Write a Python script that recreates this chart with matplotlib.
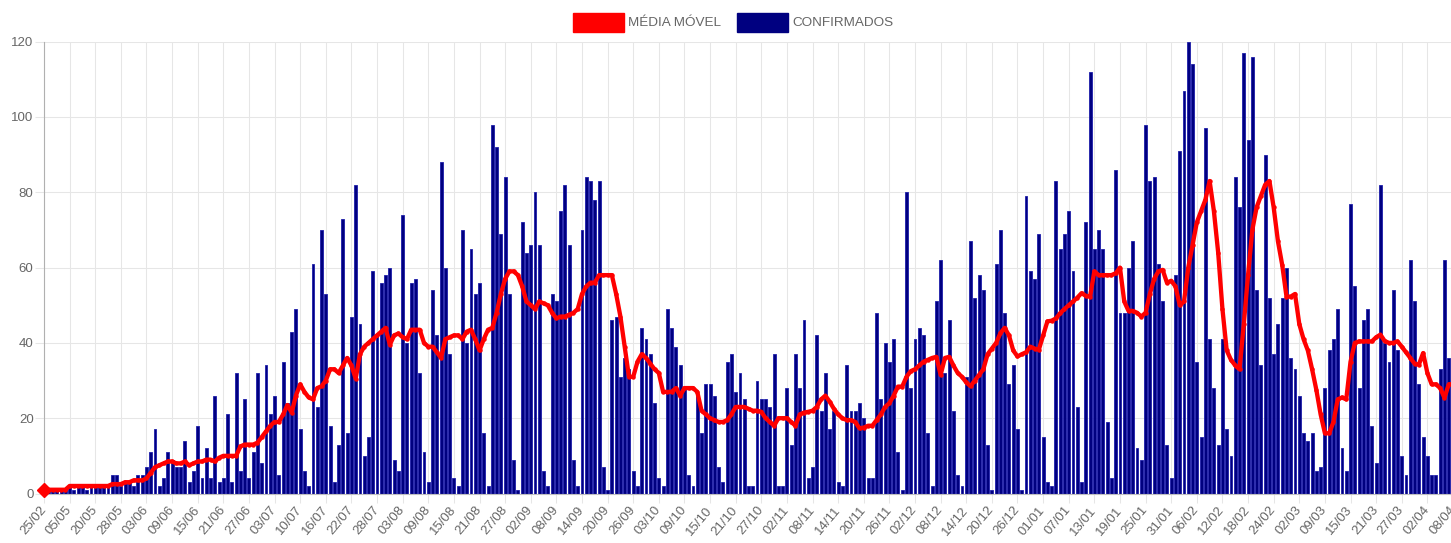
import numpy as np
import matplotlib
matplotlib.use("Agg")
import matplotlib.pyplot as plt
from matplotlib.patches import Rectangle

tick_labels = ["25/02", "05/05", "20/05", "28/05", "03/06", "09/06", "15/06", "21/06",
               "27/06", "03/07", "10/07", "16/07", "22/07", "28/07", "03/08", "09/08",
               "15/08", "21/08", "27/08", "02/09", "08/09", "14/09", "20/09", "26/09",
               "03/10", "09/10", "15/10", "21/10", "27/10", "02/11", "08/11", "14/11",
               "20/11", "26/11", "02/12", "08/12", "14/12", "20/12", "26/12", "01/01",
               "07/01", "13/01", "19/01", "25/01", "31/01", "06/02", "12/02", "18/02",
               "24/02", "02/03", "09/03", "15/03", "21/03", "27/03", "02/04", "08/04"]

# casos confirmados por dia (uma categoria por dia)
confirmados = [
    1, 1, 1, 1, 1, 1,
    2, 1, 2, 2, 1, 2,
    2, 2, 2, 2, 5, 5,
    2, 3, 3, 2, 5, 5,
    7, 11, 17, 2, 4, 11,
    9, 7, 7, 14, 3, 6,
    18, 4, 12, 4, 26, 3,
    4, 21, 3, 32, 6, 25,
    4, 11, 32, 8, 34, 21,
    26, 5, 35, 24, 43, 49,
    17, 6, 2, 61, 23, 70,
    53, 18, 3, 13, 73, 16,
    47, 82, 45, 10, 15, 59,
    42, 56, 58, 60, 9, 6,
    74, 40, 56, 57, 32, 11,
    3, 54, 42, 88, 60, 37,
    4, 2, 70, 40, 65, 53,
    56, 16, 2, 98, 92, 69,
    84, 53, 9, 1, 72, 64,
    66, 80, 66, 6, 2, 53,
    51, 75, 82, 66, 9, 2,
    70, 84, 83, 78, 83, 7,
    1, 46, 47, 31, 36, 33,
    6, 2, 44, 41, 37, 24,
    4, 2, 49, 44, 39, 34,
    28, 5, 2, 26, 16, 29,
    29, 26, 7, 3, 35, 37,
    27, 32, 25, 2, 2, 30,
    25, 25, 23, 37, 2, 2,
    28, 13, 37, 28, 46, 4,
    7, 42, 22, 32, 17, 22,
    3, 2, 34, 22, 22, 24,
    20, 4, 4, 48, 25, 40,
    35, 41, 11, 1, 80, 28,
    41, 44, 42, 16, 2, 51,
    62, 32, 46, 22, 5, 2,
    31, 67, 52, 58, 54, 13,
    1, 61, 70, 48, 29, 34,
    17, 1, 79, 59, 57, 69,
    15, 3, 2, 83, 65, 69,
    75, 59, 23, 3, 72, 112,
    65, 70, 65, 19, 4, 86,
    48, 48, 60, 67, 12, 9,
    98, 83, 84, 61, 51, 13,
    4, 58, 91, 107, 120, 114,
    35, 15, 97, 41, 28, 13,
    41, 17, 10, 84, 76, 117,
    94, 116, 54, 34, 90, 52,
    37, 45, 52, 60, 36, 33,
    26, 16, 14, 16, 6, 7,
    28, 38, 41, 49, 12, 6,
    77, 55, 28, 46, 49, 18,
    8, 82, 40, 35, 54, 38,
    10, 5, 62, 51, 29, 15,
    10, 5, 5, 33, 62, 36,
    30,
]

# média móvel
media_movel = [
    1, 1, 1, 1, 1, 1,
    2, 2, 2, 2, 2, 2,
    2, 2, 2, 2, 2.5, 2.5,
    2.5, 3, 3, 3.5, 3.5, 3.5,
    4, 5.5, 7, 7.5, 8, 8.5,
    8.5, 8, 8, 8.5, 7.5, 8,
    8.5, 8.5, 9, 9, 8.5, 9.5,
    10, 10, 10, 10, 12.5, 13,
    13, 13, 13.5, 15, 16.5, 18,
    19, 19, 21, 23.5, 21.5, 26,
    29, 27, 25.5, 25, 28, 28.5,
    30, 33, 33, 32, 34, 36,
    34, 30.5, 37, 39, 40, 41,
    42, 43, 44, 39.5, 42, 42.5,
    41.5, 41, 43.5, 43.5, 43.5, 40,
    39, 39, 37.5, 36, 41, 41.5,
    42, 42, 41, 43, 43.5, 41,
    38, 41, 43.5, 44, 48, 53,
    57, 59, 59, 58, 55, 51,
    50, 49, 51, 50.5, 50, 48,
    46.5, 47, 47, 47.5, 48, 49,
    53, 55, 56, 56, 58, 58,
    58, 58, 53, 47, 39, 31,
    31, 35, 37, 36, 34.5, 33,
    32, 27, 27, 27, 28, 26,
    28, 28, 28, 27, 22, 21,
    20, 19.5, 19, 19, 19.5, 21,
    23, 23, 23, 22.5, 22, 22,
    21.7, 20, 19, 18, 20, 20,
    20, 19, 18, 21, 21.5, 21.7,
    22, 23, 25, 26, 24.4, 22.5,
    21, 20, 19.5, 19.5, 19, 17.3,
    17.5, 18, 18, 19.5, 21, 23,
    24, 26, 28.4, 28.4, 31, 32.5,
    33, 34, 35, 35.5, 36, 36.3,
    31.5, 36, 36.3, 34, 32, 31,
    29.5, 28.5, 30, 31.5, 33, 37,
    38.5, 40, 42.6, 44, 42, 38,
    36.4, 37, 37.5, 39, 38.5, 38.2,
    42, 45.7, 45.9, 46.5, 47.9, 49,
    50, 51, 52, 53.2, 52.5, 52.3,
    59, 58, 58, 58, 58, 58.5,
    60, 51, 48.5, 48.5, 48, 47,
    48, 53, 57, 59, 59.4, 56,
    56.5, 55, 50, 51, 60, 66,
    72, 75, 78, 83, 75, 64,
    49, 38, 35.5, 34, 33, 45,
    58, 70, 76, 79, 82, 83,
    76, 67, 60.7, 52.3, 52.3, 53,
    45, 41, 38, 33, 27.5, 21,
    16, 16, 19, 25, 25.5, 25,
    35, 40, 40.4, 40.4, 40.4, 40.4,
    41.5, 42.2, 40.5, 40, 40, 40.4,
    39, 37.5, 36, 34.5, 34.2, 37.3,
    32, 29, 29, 28, 25.4, 29,
    29,
]

plt.rcParams['font.family'] = ['Liberation Sans', 'DejaVu Sans']

W, H = 1451, 543
fig = plt.figure(figsize=(W / 100, H / 100), dpi=100)
ax = fig.add_axes([44 / W, 49.5 / H, 1409 / W, 451.8 / H])

x = np.arange(len(confirmados))
ax.bar(x, confirmados, width=0.68, color='#000080', edgecolor='#1e1eaa',
       linewidth=0.6, zorder=2)
ax.plot(x, media_movel, color='#ff0000', lw=3.1, marker='o', ms=2.2,
        zorder=3, solid_joinstyle='round')
ax.plot(x[:1], media_movel[:1], marker='D', ms=7, color='#ff0000',
        linestyle='none', clip_on=False, zorder=4)

ax.set_xlim(0, 330)
ax.set_ylim(0, 120)
ax.set_yticks(range(0, 121, 20))
ax.set_xticks(x[::6])
ax.set_xticklabels(tick_labels, rotation=50, ha='right', va='center',
                   rotation_mode='anchor')

ax.grid(True, color='#e6e6e6', linewidth=0.75, zorder=0)
ax.set_axisbelow(True)
ax.tick_params(axis='both', length=6.5, width=0.75, color='#e6e6e6',
               labelcolor='#666666', labelsize=9.5)
ax.tick_params(axis='y', pad=1)
ax.tick_params(axis='x', pad=4)

for s in ('top', 'right'):
    ax.spines[s].set_visible(False)
ax.spines['left'].set_color('#b0b0b0')
ax.spines['bottom'].set_color('#c0c0c0')
ax.spines['left'].set_linewidth(0.8)
ax.spines['bottom'].set_linewidth(0.8)

# legenda no topo
fig.patches.append(Rectangle((573 / W, 1 - 31.5 / H), 51 / W, 18 / H,
                             transform=fig.transFigure, color='#ff0000'))
fig.text(628 / W, 1 - 22.5 / H, "MÉDIA MÓVEL", color='#666666',
         fontsize=9.7, va='center', ha='left')
fig.patches.append(Rectangle((737 / W, 1 - 31.5 / H), 51 / W, 18 / H,
                             transform=fig.transFigure, color='#000080'))
fig.text(792 / W, 1 - 22.5 / H, "CONFIRMADOS", color='#666666',
         fontsize=9.7, va='center', ha='left')

fig.savefig("out.png", dpi=100)
